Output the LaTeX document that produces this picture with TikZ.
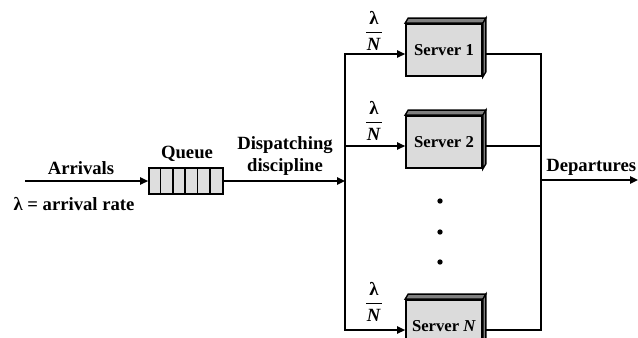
\documentclass[tikz,border=0pt]{standalone}
\usepackage{fontspec}
\setmainfont{Liberation Serif}
\usetikzlibrary{arrows.meta,calc}

\tikzset{
  lbl/.style={font=\fontsize{14}{16}\selectfont\bfseries, inner sep=0pt},
  flow/.style={line width=1.1pt, -{Triangle[length=6pt,width=5.5pt]}},
  wire/.style={line width=1.1pt},
  srvbox/.style={draw, line width=1.3pt, fill=black!14, minimum width=57pt, minimum height=39pt,
    inner sep=0pt, font=\fontsize{12.5}{14}\selectfont\bfseries},
  srvface/.style={draw, line width=1pt, fill=black!50},
  qbox/.style={draw, line width=1.3pt, fill=black!13, minimum width=55.5pt, minimum height=19.5pt, inner sep=0pt},
  dot/.style={circle, fill, inner sep=0pt, minimum size=4pt}
}

\begin{document}
\begin{tikzpicture}[x=0.75pt,y=0.75pt,yscale=-1,xscale=1]
\path[use as bounding box, clip] (0,0) rectangle (638,337);

%Shape: Queue
\node[qbox] (queue) at (186,181) {};
\foreach \i in {1,...,5}
  \draw[line width=1.3pt] ($(queue.north west)+(\i*74/6,0)$) -- ($(queue.south west)+(\i*74/6,0)$);

%Coordinates
\coordinate (arrin) at (25,181);
\coordinate (fork) at (345,181);
\coordinate (join) at (541,180);
\coordinate (depout) at (638,180);

%Shape: Servers
\node[srvbox] (srvA) at (444,50) {Server 1};
\node[srvbox] (srvB) at (444,142) {Server 2};
\node[srvbox] (srvN) at (444,326) {Server \textit{N}};
\foreach \s in {srvA,srvB,srvN} {
  \filldraw[srvface] (\s.north west) -- ++(3,-5) -- ($(\s.north east)+(3,-5)$) -- (\s.north east) -- cycle;
  \filldraw[srvface] (\s.north east) -- ++(3,-5) -- ($(\s.south east)+(3,-5)$) -- (\s.south east) -- cycle;
}

%Straight Lines: in and dispatch
\draw[flow] (arrin) -- (queue.west);
\draw[flow] (queue.east) -- (fork);
\draw[flow] (fork) |- ($(srvA.west)+(0,4)$);
\draw[flow] (fork) |- ($(srvB.west)+(0,4)$);
\draw[flow] (fork) |- ($(srvN.west)+(0,4)$);

%Straight Lines: out
\draw[wire] ($(srvA.east)+(3,4)$) -| (join);
\draw[wire] ($(srvB.east)+(3,4)$) -| (join);
\draw[wire] ($(srvN.east)+(3,4)$) -| (join);
\draw[flow] (join) -- (depout);

%Shape: dots
\foreach \y [count=\k] in {201,232,262}
  \node[dot] (dot\k) at (440,\y) {};

% Text Node
\node[lbl] (arrtxt) at (81,168) {Arrivals};
% Text Node
\node[lbl] (ratetxt) at (74,204) {λ = arrival rate};
% Text Node
\node[lbl] (qtxt) at (187,154) {Queue};
% Text Node
\node[lbl, align=center] (disptxt) at (285,156) {Dispatching\\discipline};
% Text Node
\node[lbl, anchor=west] (deptxt) at (546,167) {Departures};
% Text Node
\node[lbl] (fracA) at (374,31) {$\displaystyle{\textbf{\,λ\,}\above 1.3pt\textbf{\textit{N}}}$};
% Text Node
\node[lbl] (fracB) at (374,121) {$\displaystyle{\textbf{\,λ\,}\above 1.3pt\textbf{\textit{N}}}$};
% Text Node
\node[lbl] (fracN) at (374,302) {$\displaystyle{\textbf{\,λ\,}\above 1.3pt\textbf{\textit{N}}}$};

\end{tikzpicture}
\end{document}
